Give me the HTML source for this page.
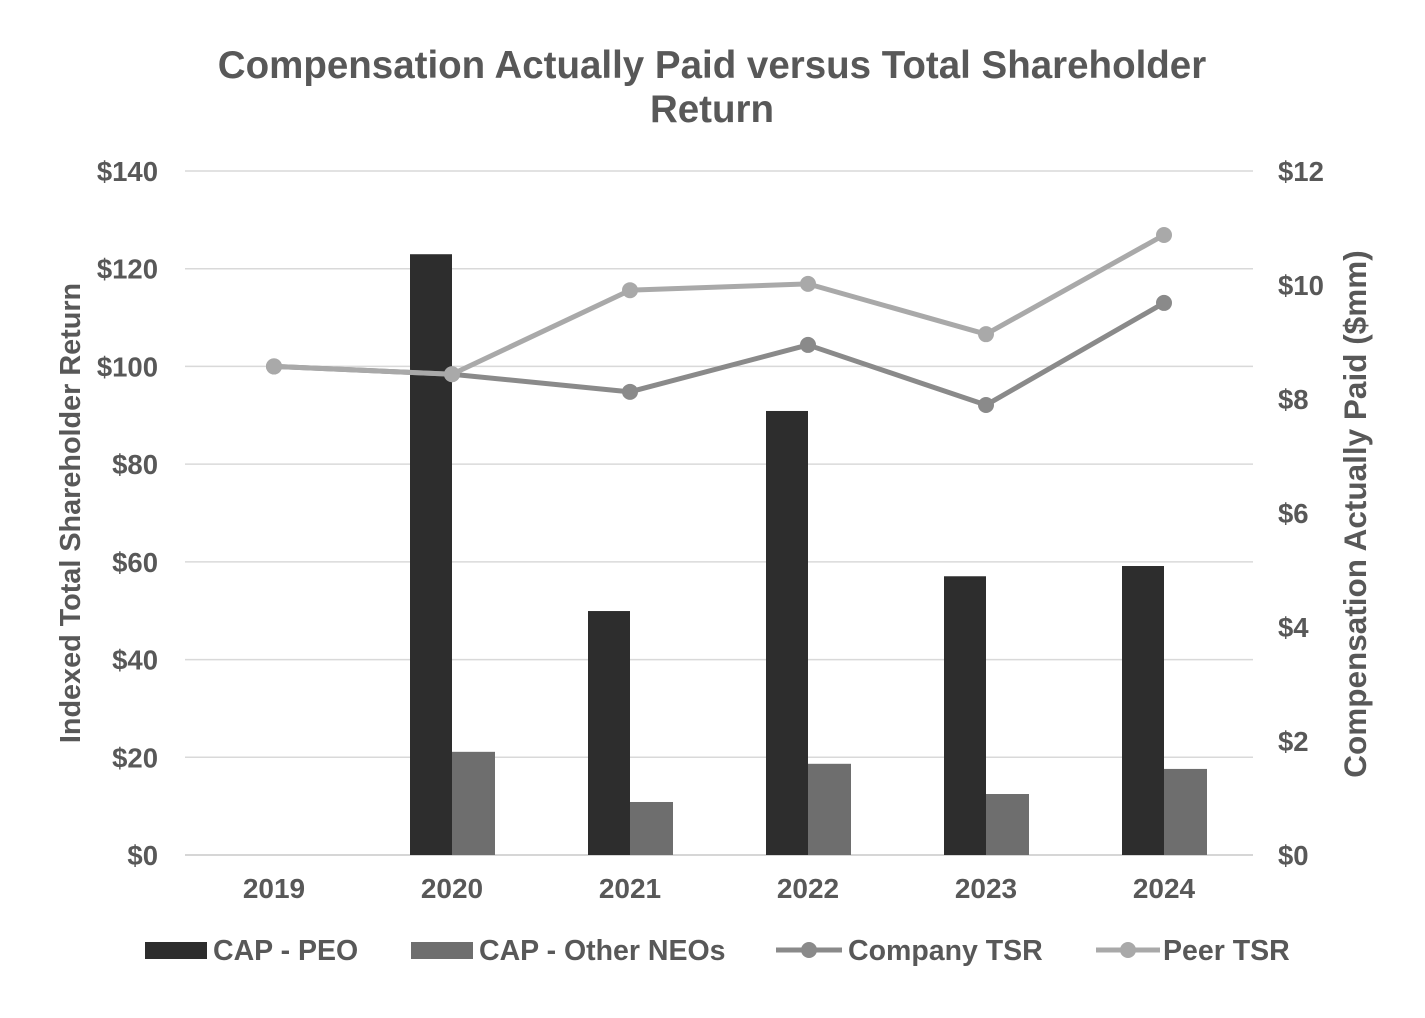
<!DOCTYPE html>
<html><head><meta charset="utf-8"><style>
body{margin:0;background:#fff;}
svg text{font-family:"Liberation Sans",Arial,sans-serif;font-weight:bold;fill:#585858;}
</style></head><body>
<svg id="chart" width="1425" height="1013" viewBox="0 0 1425 1013">
<text x="712" y="78" font-size="38.5" text-anchor="middle">Compensation Actually Paid versus Total Shareholder</text>
<text x="712" y="122" font-size="38.5" text-anchor="middle">Return</text>
<g id="grid"></g><g id="bars"></g><g id="lines"></g><g id="axes"></g>
<text transform="translate(80,513) rotate(-90)" font-size="28.8" text-anchor="middle">Indexed Total Shareholder Return</text>
<text transform="translate(1366,514) rotate(-90)" font-size="31.5" text-anchor="middle">Compensation Actually Paid ($mm)</text>
<g>
<rect x="145" y="942" width="62" height="17" fill="#2d2d2d"/>
<text x="213" y="960" font-size="28.5">CAP - PEO</text>
<rect x="411" y="942" width="62" height="17" fill="#6e6e6e"/>
<text x="479" y="960" font-size="28.5">CAP - Other NEOs</text>
<line x1="776" y1="950" x2="842" y2="950" stroke="#8a8a8a" stroke-width="5"/>
<circle cx="809" cy="950" r="8" fill="#8a8a8a"/>
<text x="848" y="960" font-size="28.5">Company TSR</text>
<line x1="1096" y1="950" x2="1160" y2="950" stroke="#a9a9a9" stroke-width="5"/>
<circle cx="1128" cy="950" r="8" fill="#a9a9a9"/>
<text x="1163" y="960" font-size="28.5">Peer TSR</text>
</g>
</svg>
<script>
const years=["2019","2020","2021","2022","2023","2024"];
const capPeo=[0,10.54,4.28,7.79,4.89,5.07];
const capNeo=[0,1.81,0.93,1.60,1.07,1.51];
const companyTsr=[100,98.4,94.8,104.4,92.1,113.0];
const peerTsr=[100,98.4,115.6,116.9,106.6,126.9];
const leftTicks=["$0","$20","$40","$60","$80","$100","$120","$140"];
const rightTicks=["$0","$2","$4","$6","$8","$10","$12"];
const NS="http://www.w3.org/2000/svg";
const X0=185,X1=1253,Y0=855,Y1=171;
const band=(X1-X0)/years.length;
const xc=i=>X0+band*(i+0.5);
const yL=v=>Y0-(v/140)*(Y0-Y1);
const yR=v=>Y0-(v/12)*(Y0-Y1);
function mk(tag,attrs,parent){const e=document.createElementNS(NS,tag);for(const k in attrs)e.setAttribute(k,attrs[k]);parent.appendChild(e);return e;}
const grid=document.getElementById('grid'),bars=document.getElementById('bars'),lines=document.getElementById('lines'),axes=document.getElementById('axes');
leftTicks.forEach((t,i)=>{const y=yL(i*20);
 const l=mk('line',{x1:X0,x2:X1,y1:y,y2:y,stroke:i==0?'#c8c8c8':'#d9d9d9','stroke-width':1.5},grid);
 
 
 const tx=mk('text',{x:158,y:y+10,'font-size':27.5,'text-anchor':'end'},axes);tx.textContent=t;
 
 });
rightTicks.forEach((t,i)=>{const y=yR(i*2);
 const tx=mk('text',{x:1278,y:y+10,'font-size':27.5},axes);tx.textContent=t;
 
 });
years.forEach((yr,i)=>{
 const tx=mk('text',{x:xc(i),y:898,'font-size':28,'text-anchor':'middle'},axes);tx.textContent=yr;
 
 
 if(capPeo[i]>0){const b=mk('rect',{x:xc(i)-42,y:yR(capPeo[i]),width:42,height:Y0-yR(capPeo[i]),fill:'#2d2d2d'},bars);
 
 }
 if(capNeo[i]>0){const b=mk('rect',{x:xc(i),y:yR(capNeo[i]),width:43,height:Y0-yR(capNeo[i]),fill:'#6e6e6e'},bars);
 
 }
});
function series(vals,color,name){
 const p=mk('polyline',{points:vals.map((v,i)=>xc(i)+','+yL(v)).join(' '),fill:'none',stroke:color,'stroke-width':5,'stroke-linejoin':'round'},lines);
 
 
 vals.forEach((v,i)=>{const c=mk('circle',{cx:xc(i),cy:yL(v),r:8,fill:color},lines);
 
 });
}
series(companyTsr,'#8a8a8a','company-tsr');
series(peerTsr,'#a9a9a9','peer-tsr');
</script>
</body></html>
